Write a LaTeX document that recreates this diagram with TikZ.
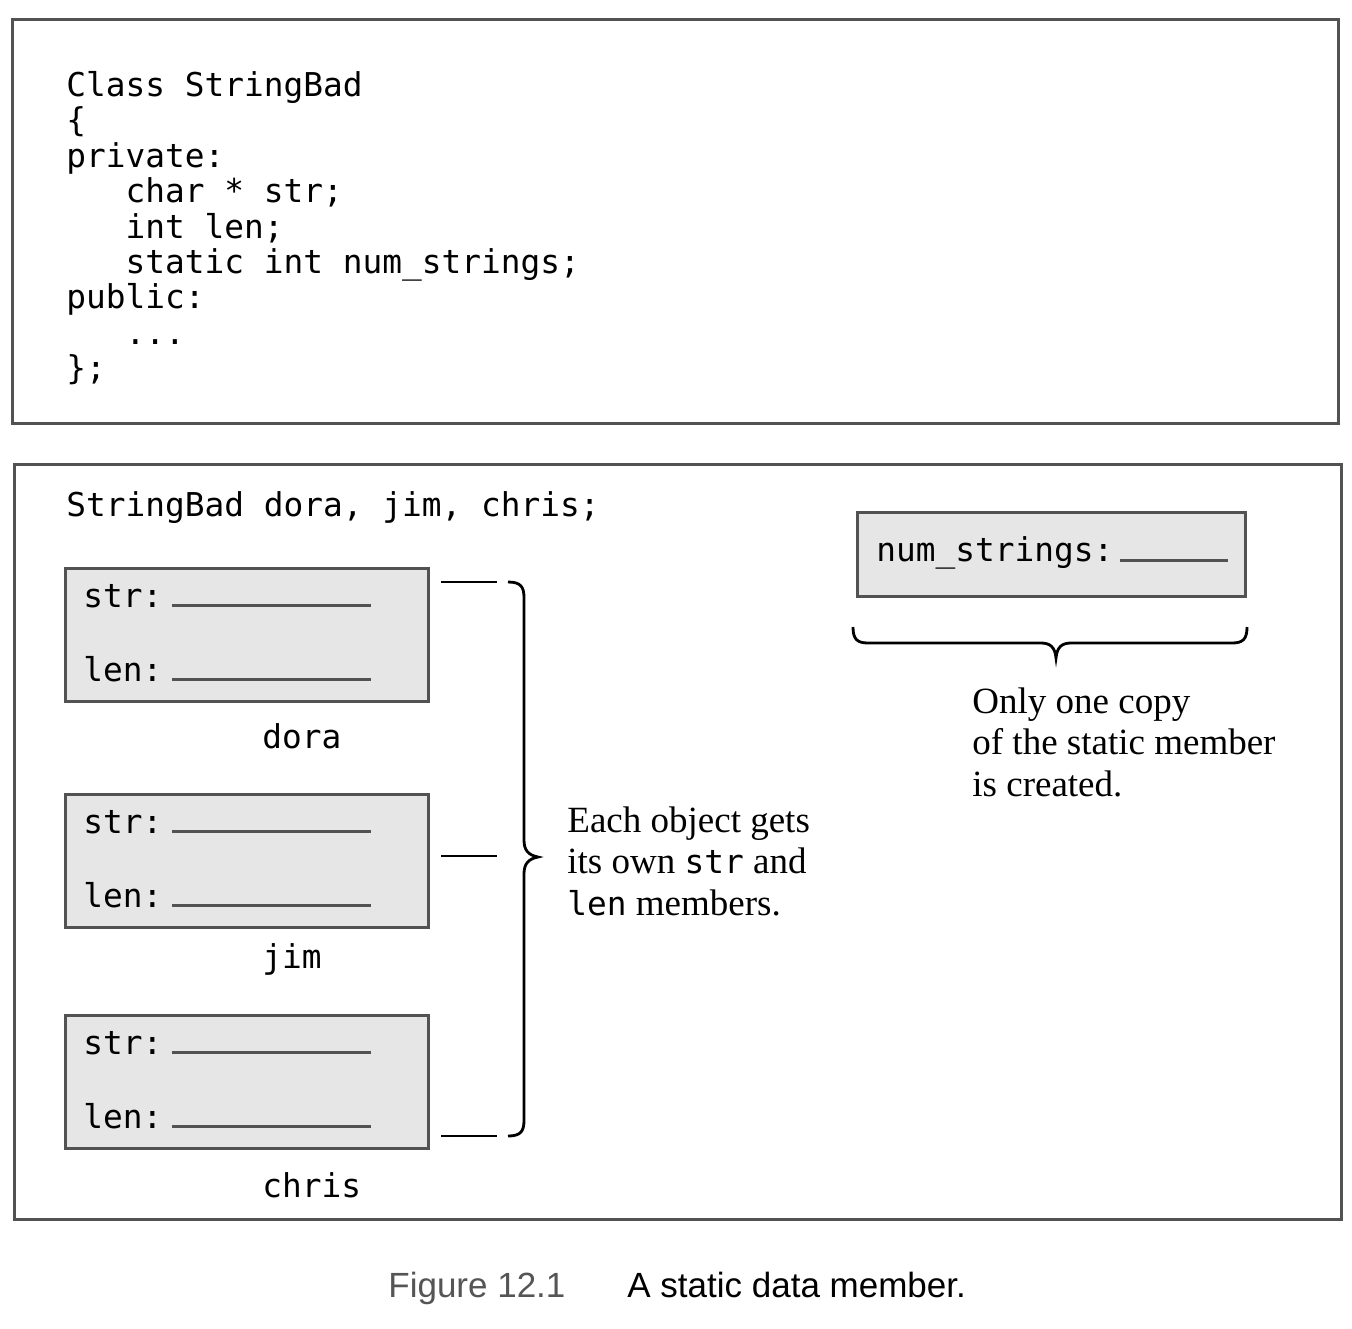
\documentclass[tikz,border=0pt]{standalone}
\usepackage{fontspec}
\setmainfont{Liberation Serif}
\newfontfamily\codefont{DejaVu Sans Mono}
\newfontfamily\capfont{Liberation Sans}
\usetikzlibrary{positioning}

\definecolor{boxgray}{HTML}{E6E6E6}
\definecolor{linegray}{HTML}{525252}
\definecolor{capgray}{HTML}{555555}

\newcommand{\cw}[1]{{\codefont\fontsize{16.4}{20.5}\selectfont #1}}

\tikzset{
  frame/.style={draw=linegray, line width=1.5pt},
  objbox/.style={draw=linegray, fill=boxgray, line width=1.5pt, minimum width=181.5pt, minimum height=66.5pt, inner sep=0pt},
  code/.style={font=\fontsize{16.4}{17.7}\selectfont\codefont, inner sep=0pt},
  note/.style={font=\fontsize{18.5}{20.75}\selectfont, align=left, inner sep=0pt},
  blank/.style={draw=linegray, line width=1.5pt},
  bracket/.style={draw, line width=1.4pt},
  tick/.style={draw, line width=1pt},
}

\begin{document}
\begin{tikzpicture}[x=0.5pt,y=-0.5pt]
  \useasboundingbox (0,0) rectangle (1352,1328);

  % class declaration
  \draw[frame] (12,19) rectangle (1338,423);
  \node[code, align=left, anchor=north west] (decl) at (66,71) {Class StringBad\\
    \{\\
    private:\\
    \hphantom{xxx}char * str;\\
    \hphantom{xxx}int len;\\
    \hphantom{xxx}static int num\_strings;\\
    public:\\
    \hphantom{xxx}...\\
    \};};

  % the three objects
  \draw[frame] (14,464) rectangle (1341,1219);
  \node[code, anchor=base west] (objs) at (66,516) {StringBad dora, jim, chris;};
  \foreach \name/\ytop/\ylbl in {dora/567/748, jim/793/968, chris/1014/1197} {
    \node[objbox, anchor=north west] (\name) at (64,\ytop) {};
    \node[code, anchor=base west] at (83,\ytop+40) {str:};
    \node[code, anchor=base west] at (83,\ytop+114) {len:};
    \draw[blank] (172,\ytop+38) -- (371,\ytop+38);
    \draw[blank] (172,\ytop+112) -- (371,\ytop+112);
    \node[code, anchor=base west] (\name-lbl) at (262,\ylbl) {\name};
  }

  % brace over the objects
  \draw[tick] (441,582) -- (497,582);
  \draw[tick] (441,856) -- (497,856);
  \draw[tick] (441,1136) -- (497,1136);
  \draw[bracket] (508,582) .. controls (521,582) and (524,587) .. (524,598)
    -- (524,840) .. controls (524,850) and (528,855) .. (538,857)
    .. controls (528,859) and (524,864) .. (524,874)
    -- (524,1120) .. controls (524,1131) and (521,1136) .. (508,1136);
  \node[note, anchor=north west] (each) at (567,806) {Each object gets\\
    its own \cw{str} and\\
    \cw{len} members.};

  % the static member
  \node[objbox, minimum width=194pt, minimum height=42pt, anchor=north west] (num) at (856,511) {};
  \node[code, anchor=base west] at (876,561) {num\_strings:};
  \draw[blank] (1120,560) -- (1228,560);
  \draw[bracket] (853,627) .. controls (853,639) and (857,643) .. (868,643)
    -- (1041,643) .. controls (1050,643) and (1055,647) .. (1056,658)
    .. controls (1057,647) and (1062,643) .. (1071,643)
    -- (1232,643) .. controls (1243,643) and (1247,639) .. (1247,627);
  \node[note, anchor=north west] (only) at (972,687) {Only one copy\\
    of the static member\\
    is created.};

  % caption
  \node[font=\fontsize{17.5}{20}\selectfont\capfont, text=capgray, anchor=base west, inner sep=0pt] (fig) at (388,1297) {Figure 12.1};
  \node[font=\fontsize{17.5}{20}\selectfont\capfont, anchor=base west, inner sep=0pt] (cap) at (627,1297) {A static data member.};
\end{tikzpicture}
\end{document}
